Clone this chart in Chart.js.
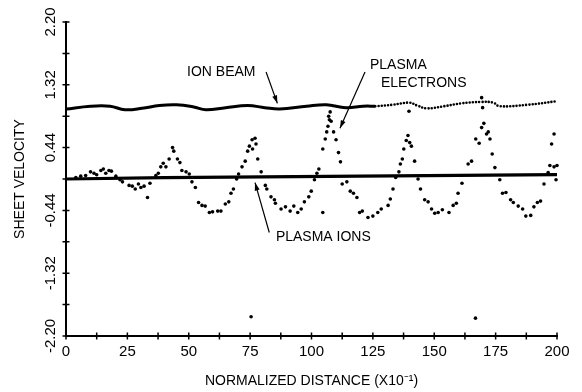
<!DOCTYPE html>
<html>
<head>
<meta charset="utf-8">
<script src="https://cdn.jsdelivr.net/npm/chart.js@4"></script>
<style>
  html, body { margin: 0; padding: 0; background: #fff; }
</style>
</head>
<body>
<canvas id="myChart" width="582" height="392"></canvas>
<script>
// tick labels
const xTickLabels = [0, 25, 50, 75, 100, 125, 150, 175, 200];
const yTickLabels = ['2.20', '1.32', '0.44', '-0.44', '-1.32', '-2.20'];

// ion beam (solid part, then the dotted continuation)
const beamX = [0, 10, 18, 24, 31, 38, 45, 52, 57, 65, 74, 81, 87, 98, 106, 114, 121, 126];
const beamV = [0.98, 1.02, 1.02, 0.97, 0.99, 1.03, 1.04, 1.01, 0.97, 1.0, 1.03, 1.0, 0.98, 1.02, 1.04, 1.0, 1.02, 1.02];
const beamTailX = [126, 133, 140, 143, 147, 154, 161, 169, 174, 176.5, 188, 200];
const beamTailV = [1.02, 1.04, 1.07, 1.03, 0.99, 1.02, 1.06, 1.08, 1.07, 1.02, 1.04, 1.09];

// plasma ions
const ionsX = [0, 40, 80, 120, 160, 200];
const ionsV = [0.0, 0.02, 0.03, 0.04, 0.05, 0.06];

// plasma electrons
const electronX = [4, 6, 8, 10, 11.4, 12.5, 14.2, 15.2, 16.2, 17.5, 18.5, 20.3, 22, 23, 25.7, 27, 28.2, 29.5, 30.5, 31.8,
  33.2, 34.2, 36.6, 37.6, 38.6, 39.6, 40.7, 42, 43.4, 43.9, 45.4, 46.4, 47.2, 48.9, 50.2, 51.3, 52.7, 54, 55.4, 56.7,
  58.4, 59.7, 61.8, 63.1, 64.9, 66.3, 67.2, 68.2, 69.5, 70.3, 71.7, 73, 74, 74.7, 75.4, 75.8, 76, 77, 77.4, 78.1,
  79.5, 81.2, 81.8, 83.5, 84.9, 85.3, 87.6, 89.4, 91.3, 92.8, 94.4, 95.8, 97.1, 98.9, 99.9, 101.2, 102.2, 103, 104.6, 104.6,
  105.6, 106.2, 106.7, 107, 107.3, 107.6, 108, 109, 110, 111, 111.8, 112.5, 114.4, 115.8, 117.1, 118.5, 119.6, 120.7, 123, 125,
  127, 128.4, 131.2, 132.1, 133.2, 134.3, 135.6, 136.2, 137, 137.6, 138.6, 139.3, 139.7, 140, 140.7, 142, 143.4, 144.4, 146.1, 147.5,
  148.9, 150.2, 151.6, 153.3, 156, 157.7, 159, 159.7, 161.3, 163.8, 165.2, 166.8, 166.9, 168.3, 169.3, 169.3, 169.7, 170.2, 171.3, 172,
  172.7, 173.6, 174.7, 176.7, 177.8, 179.2, 181.1, 182.2, 184.2, 186, 187.3, 189.3, 190.6, 192, 193.3, 194.7, 196.4, 197.1, 197.8, 198.8,
  198.8, 199.6, 200];
const electronV = [0.02, 0.04, 0.05, 0.1, 0.08, 0.06, 0.12, 0.14, 0.08, 0.12, 0.11, 0.04, -0.01, -0.04, -0.09, -0.1, -0.14, -0.07, -0.12, -0.1,
  -0.26, -0.06, 0.05, 0.08, 0.17, 0.22, 0.17, 0.28, 0.44, 0.39, 0.28, 0.23, 0.12, 0.1, 0.07, -0.04, -0.12, -0.33, -0.37, -0.38,
  -0.47, -0.46, -0.45, -0.45, -0.35, -0.32, -0.2, -0.14, 0, 0.07, 0.17, 0.25, 0.39, 0.46, -1.93, 0.55, 0.42, 0.57, 0.49, 0.28,
  0.1, -0.09, -0.14, -0.25, -0.29, -0.34, -0.42, -0.39, -0.45, -0.38, -0.47, -0.42, -0.32, -0.25, -0.17, -0.01, 0.08, 0.14, 0.42, -0.47,
  0.56, 0.66, 0.74, 0.88, 0.83, 0.94, 0.81, 0.66, 0.55, 0.37, 0.24, -0.07, -0.04, -0.17, -0.2, -0.26, -0.47, -0.45, -0.54, -0.52,
  -0.47, -0.42, -0.37, -0.28, -0.14, 0.02, 0.1, 0.21, 0.28, 0.42, 0.54, 0.61, 0.95, 0.51, 0.46, 0.25, 0, -0.14, -0.29, -0.32,
  -0.42, -0.48, -0.47, -0.43, -0.47, -0.37, -0.34, -0.2, -0.06, 0.21, 0.25, -1.95, 0.56, 0.5, 0.72, 1.14, 1.0, 0.78, 0.63, 0.66,
  0.56, 0.35, 0.16, -0.01, -0.2, -0.19, -0.29, -0.33, -0.38, -0.42, -0.52, -0.51, -0.39, -0.33, -0.31, -0.07, 0.09, 0.19, 0.49, 0.63,
  0.17, -0.01, 0.19];

// callouts, in data units
const notes = [
  { text: 'ION BEAM', x: 49.3, y: 1.5 },
  { text: 'PLASMA', x: 123.8, y: 1.6 },
  { text: 'ELECTRONS', x: 128.3, y: 1.34 },
  { text: 'PLASMA IONS', x: 85.5, y: -0.815 }
];
const arrows = [
  { from: [81.5, 1.5], to: [86.1, 1.06] },
  { from: [121.8, 1.5], to: [111.6, 0.71] },
  { from: [82.8, -0.75], to: [77, -0.05] }
];

const pts = (xs, vs) => xs.map((x, i) => ({ x: x, y: vs[i] }));
const FONT = '"Liberation Sans", Arial, sans-serif';

// tick crosses, arrows and callout text
const decorations = {
  id: 'decorations',
  afterDraw(chart) {
    const { ctx, scales: { x, y } } = chart;
    ctx.save();
    ctx.strokeStyle = '#000';
    ctx.fillStyle = '#000';
    ctx.lineWidth = 1.5;
    ctx.beginPath();
    x.ticks.forEach(t => {
      const px = x.getPixelForValue(t.value);
      ctx.moveTo(px, y.bottom - 3.5);
      ctx.lineTo(px, y.bottom + 3.5);
    });
    y.ticks.forEach(t => {
      const py = y.getPixelForValue(t.value);
      ctx.moveTo(x.left - 3.5, py);
      ctx.lineTo(x.left + 3.5, py);
    });
    ctx.stroke();

    ctx.lineWidth = 1.2;
    arrows.forEach(a => {
      const x1 = x.getPixelForValue(a.from[0]), y1 = y.getPixelForValue(a.from[1]);
      const x2 = x.getPixelForValue(a.to[0]), y2 = y.getPixelForValue(a.to[1]);
      const ang = Math.atan2(y2 - y1, x2 - x1);
      ctx.beginPath();
      ctx.moveTo(x1, y1);
      ctx.lineTo(x2, y2);
      ctx.stroke();
      ctx.beginPath();
      ctx.moveTo(x2, y2);
      ctx.lineTo(x2 - 8 * Math.cos(ang) + 2.5 * Math.sin(ang), y2 - 8 * Math.sin(ang) - 2.5 * Math.cos(ang));
      ctx.lineTo(x2 - 8 * Math.cos(ang) - 2.5 * Math.sin(ang), y2 - 8 * Math.sin(ang) + 2.5 * Math.cos(ang));
      ctx.closePath();
      ctx.fill();
    });

    ctx.font = '14px ' + FONT;
    ctx.textBaseline = 'middle';
    ctx.textAlign = 'left';
    notes.forEach(n => ctx.fillText(n.text, x.getPixelForValue(n.x), y.getPixelForValue(n.y)));
    ctx.restore();
  }
};

Chart.defaults.font.family = FONT;
Chart.defaults.color = '#000';

new Chart(document.getElementById('myChart'), {
  type: 'scatter',
  data: {
    datasets: [
      {
        label: 'PLASMA ELECTRONS',
        data: pts(electronX, electronV),
        pointRadius: 1.8,
        pointBackgroundColor: '#000',
        pointBorderWidth: 0,
        clip: false
      },
      {
        label: 'ION BEAM',
        data: pts(beamX, beamV),
        showLine: true,
        borderColor: '#000',
        borderWidth: 3,
        tension: 0.4,
        pointRadius: 0,
        clip: false
      },
      {
        label: 'ION BEAM (dotted)',
        data: pts(beamTailX, beamTailV),
        showLine: true,
        borderColor: '#000',
        borderWidth: 2.6,
        borderDash: [0, 3.2],
        borderCapStyle: 'round',
        tension: 0.4,
        pointRadius: 0,
        clip: false
      },
      {
        label: 'PLASMA IONS',
        data: pts(ionsX, ionsV),
        showLine: true,
        borderColor: '#000',
        borderWidth: 3.2,
        pointRadius: 0,
        clip: false
      }
    ]
  },
  options: {
    responsive: false,
    devicePixelRatio: 1,
    animation: false,
    layout: { padding: { left: 0, right: 25, top: 22, bottom: 0 } },
    plugins: { legend: { display: false }, tooltip: { enabled: false } },
    scales: {
      x: {
        type: 'linear',
        min: 0,
        max: 200,
        afterFit: scale => { scale.height = 56; },
        grid: { display: false, drawTicks: false },
        border: { display: true, color: '#000', width: 2 },
        ticks: {
          stepSize: 12.5,
          autoSkip: false,
          maxRotation: 0,
          padding: 7,
          font: { size: 15 },
          callback: v => xTickLabels.includes(v) ? String(v) : ''
        },
        title: {
          display: true,
          text: 'NORMALIZED DISTANCE (X10\u207B\u00B9)',
          font: { size: 14 },
          padding: { top: 0, bottom: 2 }
        }
      },
      y: {
        min: -2.2,
        max: 2.2,
        afterFit: scale => { scale.width = 66; },
        grid: { display: false, drawTicks: false },
        border: { display: true, color: '#000', width: 2 },
        ticks: {
          stepSize: 0.44,
          autoSkip: false,
          minRotation: 90,
          maxRotation: 90,
          crossAlign: 'center',
          padding: -2,
          font: { size: 15 },
          callback: v => {
            const s = (Math.round(v * 100) / 100).toFixed(2);
            return yTickLabels.includes(s) ? s : '';
          }
        },
        title: {
          display: true,
          text: 'SHEET VELOCITY',
          font: { size: 14 },
          padding: { top: 12, bottom: 0 }
        }
      }
    }
  },
  plugins: [decorations]
});
</script>
</body>
</html>
